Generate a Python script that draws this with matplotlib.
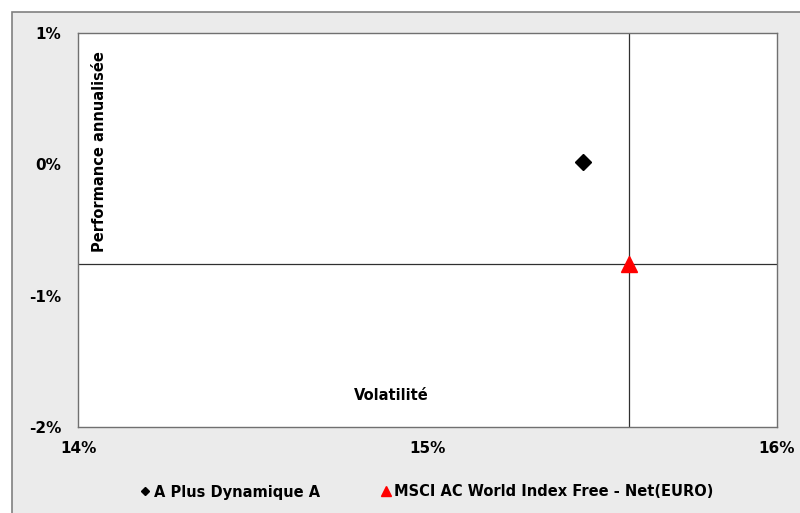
import matplotlib.pyplot as plt
from matplotlib.patches import Rectangle
from matplotlib.lines import Line2D

# volatility (%) and annualised performance (%)
series_names = ["A Plus Dynamique A", "MSCI AC World Index Free - Net(EURO)"]
volatility = [15.445, 15.577]
performance = [0.02, -0.76]
x_ticks = [14, 15, 16]
y_ticks = [-2, -1, 0, 1]

fig = plt.figure(figsize=(8, 5.13), dpi=100)
fig.patch.set_facecolor("white")
# grey chart frame
fig.patches.append(Rectangle((12 / 800, -0.1), 1.1, 1 - 12 / 513 + 0.1,
                             transform=fig.transFigure, facecolor="#ebebeb",
                             edgecolor="#808080", linewidth=1.2, zorder=-1))

ax = fig.add_axes([78 / 800, 1 - 427 / 513, 699 / 800, 394 / 513])
ax.set_facecolor("white")
ax.set_xlim(14, 16)
ax.set_ylim(-2, 1)
ax.set_xticks(x_ticks)
ax.set_yticks(y_ticks)
ax.set_xticklabels([f"{t}%" for t in x_ticks], fontweight="bold", fontsize=11)
ax.set_yticklabels([f"{t}%" for t in y_ticks], fontweight="bold", fontsize=11)
ax.tick_params(length=0)
ax.tick_params(axis="x", pad=10)
ax.tick_params(axis="y", pad=12)
for s in ax.spines.values():
    s.set_color("#707070")
    s.set_linewidth(1.0)

# cross lines through the benchmark
ax.axvline(volatility[1], color="#303030", linewidth=0.9, zorder=1)
ax.axhline(performance[1], color="#303030", linewidth=0.9, zorder=1)

ax.plot(volatility[0], performance[0], marker="D", color="black",
        markersize=8, linestyle="none", zorder=3)
ax.plot(volatility[1], performance[1], marker="^", color="red",
        markersize=12, linestyle="none", zorder=3)

ax.text(0.448, 0.079, "Volatilité", transform=ax.transAxes, fontweight="bold",
        fontsize=10.5, ha="center", va="center")
ax.text(0.031, 0.7, "Performance annualisée", transform=ax.transAxes,
        fontweight="bold", fontsize=10.5, rotation=90, ha="center", va="center")

handles = [
    Line2D([], [], marker="D", color="black", markersize=4, linestyle="none"),
    Line2D([], [], marker="^", color="red", markersize=7, linestyle="none"),
]
fig.legend(handles, series_names, loc="center", bbox_to_anchor=(0.534, 1 - 492 / 513),
           ncol=2, frameon=False, handlelength=0.6, handletextpad=0.3,
           columnspacing=4.2, prop={"weight": "bold", "size": 10.5})

fig.savefig("out.png", dpi=100)
